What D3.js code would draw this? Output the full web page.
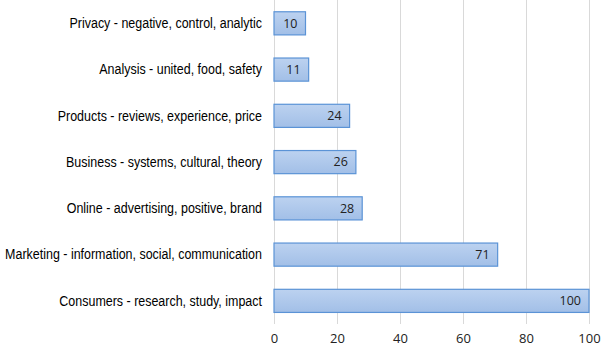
<!DOCTYPE html>
<html>
<head>
<style>
html, body { margin: 0; padding: 0; background: #fff; }
svg { display: block; }
</style>
</head>
<body>
<svg width="601" height="346"></svg>
<script src="https://cdn.jsdelivr.net/npm/d3@7/dist/d3.min.js"></script>
<script>
// topics, top to bottom
var topics = [
    "Privacy - negative, control, analytic",
    "Analysis - united, food, safety",
    "Products - reviews, experience, price",
    "Business - systems, cultural, theory",
    "Online - advertising, positive, brand",
    "Marketing - information, social, communication",
    "Consumers - research, study, impact"
];
var counts = [10, 11, 24, 26, 28, 71, 100];
var ticks = [0, 20, 40, 60, 80, 100];

var svg = d3.select("svg");
// note: "top" is taken by window.top, so plot edges get their own names
var plotLeft = 274, plotRight = 589, plotTop = 0.2, plotBottom = 324;

var x = d3.scaleLinear().domain([0, 100]).range([plotLeft, plotRight]);
var y = d3.scaleBand().domain(topics).range([plotTop, plotBottom]).paddingInner(0.5).paddingOuter(0.25);

// gradient for bars
var grad = svg.append("defs").append("linearGradient")
    .attr("id", "barFill").attr("x1", 0).attr("y1", 0).attr("x2", 0).attr("y2", 1);
grad.append("stop").attr("offset", "0%").attr("stop-color", "#bcd2f0");
grad.append("stop").attr("offset", "100%").attr("stop-color", "#a2bfe7");

// gridlines
svg.append("g").selectAll("line")
    .data(ticks)
    .join("line")
    .attr("x1", d => Math.round(x(d)) + 0.5)
    .attr("x2", d => Math.round(x(d)) + 0.5)
    .attr("y1", 0)
    .attr("y2", plotBottom)
    .attr("stroke", "#d9d9d9")
    .attr("stroke-width", 1);

// bars
var data = topics.map((t, i) => ({ topic: t, value: counts[i] }));

svg.append("g").selectAll("rect")
    .data(data)
    .join("rect")
    .attr("x", x(0))
    .attr("y", d => y(d.topic))
    .attr("width", d => x(d.value) - x(0))
    .attr("height", y.bandwidth())
    .attr("fill", "url(#barFill)")
    .attr("stroke", "#5b93d6")
    .attr("stroke-width", 1.2);

// value labels
svg.append("g").selectAll("text")
    .data(data)
    .join("text")
    .attr("x", d => x(d.value) - 8)
    .attr("y", d => y(d.topic) + y.bandwidth() / 2)
    .attr("dy", "0.35em")
    .attr("text-anchor", "end")
    .attr("font-family", "Open Sans, sans-serif")
    .attr("font-size", 12.5)
    .attr("fill", "#222")
    .text(d => d.value);

// category labels - the original font is a narrow Arial, so squeeze it
var sx = 0.89;
svg.append("g").attr("transform", "scale(" + sx + ",1)")
    .selectAll("text")
    .data(data)
    .join("text")
    .attr("x", 262 / sx)
    .attr("y", d => y(d.topic) + y.bandwidth() / 2)
    .attr("dy", "0.35em")
    .attr("text-anchor", "end")
    .attr("font-family", "Liberation Sans, Arial, sans-serif")
    .attr("font-size", 14)
    .attr("fill", "#000")
    .text(d => d.topic);

// x axis
var xAxis = d3.axisBottom(x).tickValues(ticks).tickSize(0).tickPadding(10);
var ax = svg.append("g").attr("transform", "translate(0," + plotBottom + ")").call(xAxis);
ax.select(".domain").remove();
ax.selectAll("text")
    .attr("font-family", "Open Sans, sans-serif")
    .attr("font-size", 13)
    .attr("fill", "#222");
</script>
</body>
</html>
